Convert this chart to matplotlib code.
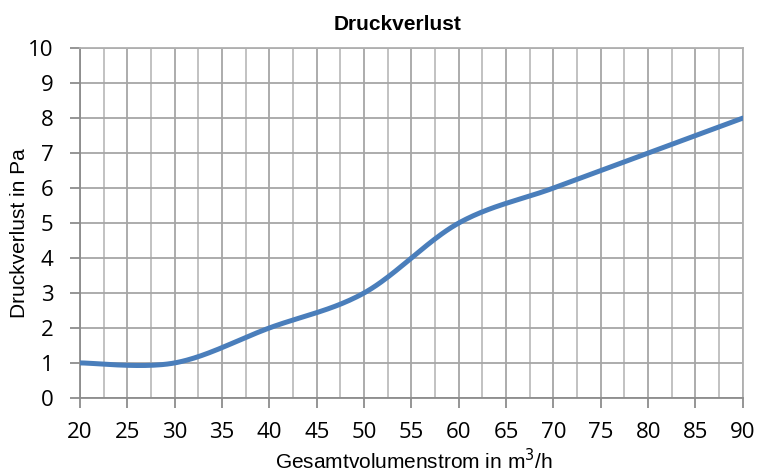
import numpy as np
import matplotlib.pyplot as plt
from matplotlib.ticker import MultipleLocator

# measured points (Excel smoothed line)
volumenstrom = [20, 30, 40, 50, 60, 70, 80, 90]
druckverlust = [1, 1, 2, 3, 5, 6, 7, 8]

x_ticks = list(range(20, 95, 5))
y_ticks = list(range(0, 11))


def excel_smooth(x, y, n=40):
    # Catmull-Rom style bezier like Excel's "smoothed line"
    x = np.asarray(x, float)
    y = np.asarray(y, float)
    px = np.concatenate([[x[0]], x, [x[-1]]])
    py = np.concatenate([[y[0]], y, [y[-1]]])
    t = np.linspace(0, 1, n)
    xs, ys = [], []
    for i in range(1, len(px) - 2):
        p0 = np.array([px[i - 1], py[i - 1]])
        p1 = np.array([px[i], py[i]])
        p2 = np.array([px[i + 1], py[i + 1]])
        p3 = np.array([px[i + 2], py[i + 2]])
        c1 = p1 + (p2 - p0) / 6
        c2 = p2 - (p3 - p1) / 6
        b = ((1 - t) ** 3)[:, None] * p1 + (3 * (1 - t) ** 2 * t)[:, None] * c1 \
            + (3 * (1 - t) * t ** 2)[:, None] * c2 + (t ** 3)[:, None] * p2
        xs.append(b[:, 0])
        ys.append(b[:, 1])
    return np.concatenate(xs), np.concatenate(ys)


fig = plt.figure(figsize=(7.58, 4.72), dpi=100)
ax = fig.add_axes([0.1055, 0.157, 0.8745, 0.741])

sx, sy = excel_smooth(volumenstrom, druckverlust)
ax.plot(sx, sy, color='#4a7ebb', linewidth=3.6, solid_capstyle='round', zorder=3)

ax.set_xlim(20, 90)
ax.set_ylim(0, 10)
ax.set_xticks(x_ticks)
ax.set_yticks(y_ticks)
ax.xaxis.set_minor_locator(MultipleLocator(2.5))

ax.grid(True, which='major', color='#a6a6a6', linewidth=1.3)
ax.grid(True, which='minor', axis='x', color='#bdbdbd', linewidth=1.3)
ax.set_axisbelow(True)

for side in ['top', 'right']:
    ax.spines[side].set_color('#b0b0b0')
    ax.spines[side].set_linewidth(1.3)
for side in ['left', 'bottom']:
    ax.spines[side].set_color('#8c8c8c')
    ax.spines[side].set_linewidth(1.3)

ax.tick_params(axis='both', which='major', length=7, width=1.3, color='#8c8c8c',
               labelsize=16)
ax.tick_params(axis='x', which='minor', length=0)
ax.tick_params(axis='x', pad=10)
ax.tick_params(axis='y', pad=12)
for lbl in ax.get_xticklabels() + ax.get_yticklabels():
    lbl.set_family('Open Sans')

fig.text(398 / 758, 1 - 30 / 472, 'Druckverlust', fontsize=15, fontweight='bold',
         family='Liberation Sans', ha='center', va='baseline')

ax.set_xlabel('Gesamtvolumenstrom in m$^3$/h', fontsize=15, family='Liberation Sans')
ax.xaxis.label.set_va('baseline')
ax.xaxis.set_label_coords(0.503, -0.203)

ax.set_ylabel('Druckverlust in Pa', fontsize=15, family='Liberation Sans')
ax.yaxis.label.set_va('center')
ax.yaxis.set_label_coords(-0.0905, 0.471)

fig.savefig('out.png', dpi=100)
